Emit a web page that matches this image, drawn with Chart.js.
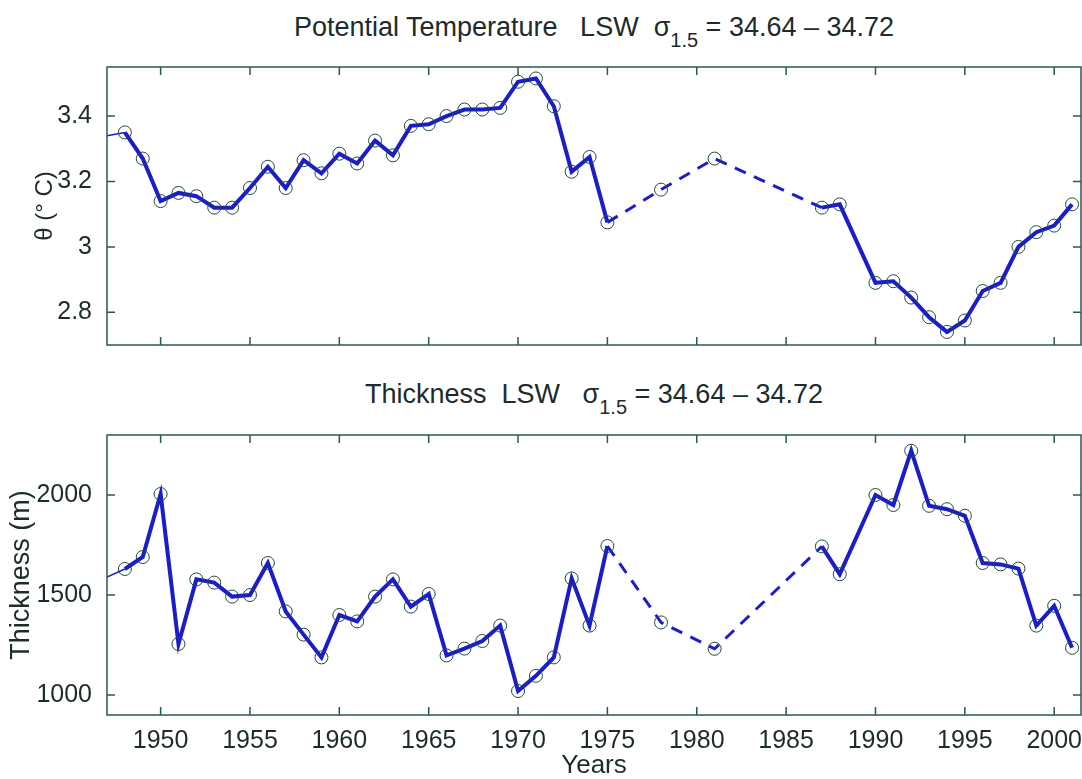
<!DOCTYPE html>
<html>
<head>
<meta charset="utf-8">
<script src="https://cdn.jsdelivr.net/npm/chart.js@4.4.1/dist/chart.umd.min.js"></script>
<style>
  body { margin: 0; background: #fff; width: 1082px; height: 779px; overflow: hidden; position: relative;
         font-family: "Liberation Sans", Arial, sans-serif; color: #1d2b2b; }
  canvas { position: absolute; left: 0; }
  #topChart { top: 0; }
  #bottomChart { top: 360px; }
  .title { position: absolute; left: 107px; width: 974px; text-align: center; font-size: 27px; white-space: pre; line-height: 1; }
  .title sub { font-size: 20px; vertical-align: baseline; position: relative; top: 0.55em; }
  #topTitle { top: 14px; }
  #bottomTitle { top: 381px; }
</style>
</head>
<body>
<div class="title" id="topTitle">Potential Temperature   LSW  σ<sub>1.5</sub> = 34.64 – 34.72</div>
<canvas id="topChart" width="1082" height="346"></canvas>
<div class="title" id="bottomTitle">Thickness  LSW   σ<sub>1.5</sub> = 34.64 – 34.72</div>
<canvas id="bottomChart" width="1082" height="419"></canvas>
<script>
/* DATA */
const years = [1947, 1948, 1949, 1950, 1951, 1952, 1953, 1954, 1955, 1956, 1957, 1958, 1959, 1960,
  1961, 1962, 1963, 1964, 1965, 1966, 1967, 1968, 1969, 1970, 1971, 1972, 1973, 1974, 1975,
  1978, 1981, 1987, 1988, 1990, 1991, 1992, 1993, 1994, 1995, 1996, 1997, 1998, 1999, 2000, 2001];
const theta = [3.34, 3.35, 3.27, 3.14, 3.165, 3.155, 3.12, 3.12, 3.18, 3.245, 3.18, 3.265, 3.225, 3.285,
  3.255, 3.325, 3.28, 3.37, 3.375, 3.40, 3.42, 3.42, 3.425, 3.505, 3.515, 3.43, 3.23, 3.275, 3.075,
  3.175, 3.27, 3.12, 3.13, 2.89, 2.895, 2.845, 2.785, 2.74, 2.775, 2.865, 2.89, 3.0, 3.045, 3.065, 3.13];
const thickness = [1590, 1630, 1690, 2005, 1255, 1578, 1562, 1492, 1500, 1660, 1418, 1302, 1188, 1400,
  1368, 1492, 1578, 1442, 1505, 1198, 1232, 1270, 1347, 1020, 1096, 1188, 1583, 1347, 1745,
  1363, 1231, 1743, 1604, 2000, 1950, 2221, 1946, 1929, 1896, 1660, 1653, 1632, 1347, 1446, 1236];
const xTicks = [1950, 1955, 1960, 1965, 1970, 1975, 1980, 1985, 1990, 1995, 2000];
const thetaTicks = [2.8, 3, 3.2, 3.4];
const thicknessTicks = [1000, 1500, 2000];

const lineBlue = "#1c1cc8";
const inkColor = "#1d2b2b";
const frameColor = "#2b5753";

// MATLAB style box with inward ticks on all four sides
const frameTicks = {
  id: "frameTicks",
  afterDraw(chart) {
    const { ctx, chartArea: a, scales } = chart;
    const len = 8;
    ctx.save();
    ctx.strokeStyle = frameColor;
    ctx.lineWidth = 1.5;
    ctx.strokeRect(a.left, a.top, a.right - a.left, a.bottom - a.top);
    ctx.beginPath();
    xTicks.forEach((v) => {
      const px = scales.x.getPixelForValue(v);
      ctx.moveTo(px, a.bottom); ctx.lineTo(px, a.bottom - len);
      ctx.moveTo(px, a.top); ctx.lineTo(px, a.top + len);
    });
    scales.y.ticks.forEach((t) => {
      const py = scales.y.getPixelForValue(t.value);
      ctx.moveTo(a.left, py); ctx.lineTo(a.left + len, py);
      ctx.moveTo(a.right, py); ctx.lineTo(a.right - len, py);
    });
    ctx.stroke();
    ctx.restore();
  },
};

// dashed where years are missing, thin for the edge piece
function gapSegment(ctx) {
  return ctx.p1.parsed.x - ctx.p0.parsed.x > 2;
}

function makeDataset(values) {
  return {
    data: years.map((y, i) => ({ x: y, y: values[i] })),
    borderColor: lineBlue,
    borderWidth: 4,
    pointRadius: (c) => (c.dataIndex === 0 ? 0 : 6.5),
    pointBorderColor: "#1f4a45",
    pointBorderWidth: 1,
    pointBackgroundColor: "rgba(0,0,0,0)",
    tension: 0,
    segment: {
      borderDash: (c) => (gapSegment(c) ? [12, 9] : undefined),
      borderWidth: (c) => (c.p0DataIndex === 0 ? 1.5 : gapSegment(c) ? 3 : undefined),
    },
  };
}

function makeChart(id, values, yTicks, yMin, yMax, yTitle, yTitlePad, yTitleSize, showX) {
  return new Chart(id, {
    type: "line",
    data: { datasets: [makeDataset(values)] },
    options: {
      responsive: false,
      animation: false,
      devicePixelRatio: 1,
      layout: {
        autoPadding: false,
        padding: showX ? { top: 75, right: 1, left: 0, bottom: 0 } : { top: 67, right: 1, left: 0, bottom: 1 },
      },
      plugins: { legend: { display: false }, tooltip: { enabled: false } },
      scales: {
        x: {
          type: "linear",
          min: 1947,
          max: 2001.5,
          display: showX,
          grid: { display: false },
          border: { display: false },
          afterBuildTicks: (s) => { s.ticks = xTicks.map((v) => ({ value: v })); },
          afterFit: (s) => {
            if (showX) s.height = 64;
            s.paddingLeft = 0;
            s.paddingRight = 0;
          },
          ticks: { color: inkColor, font: { size: 25 }, padding: 3, callback: (v) => String(v) },
          title: { display: true, text: "Years", color: inkColor, font: { size: 26, lineHeight: 1 }, padding: 0 },
        },
        y: {
          min: yMin,
          max: yMax,
          grid: { display: false },
          border: { display: false },
          afterBuildTicks: (s) => { s.ticks = yTicks.map((v) => ({ value: v })); },
          afterFit: (s) => {
            s.width = 107;
            s.paddingTop = 0;
            s.paddingBottom = 0;
          },
          ticks: { color: inkColor, font: { size: 25 }, padding: 7, callback: (v) => String(v) },
          title: { display: true, text: yTitle, color: inkColor, font: { size: yTitleSize }, padding: { top: yTitlePad, bottom: 0 } },
        },
      },
    },
    plugins: [frameTicks],
  });
}

makeChart("topChart", theta, thetaTicks, 2.7, 3.55, "θ (° C)", 31, 24, false);
makeChart("bottomChart", thickness, thicknessTicks, 900, 2300, "Thickness (m)", 5, 27, true);
</script>
</body>
</html>
